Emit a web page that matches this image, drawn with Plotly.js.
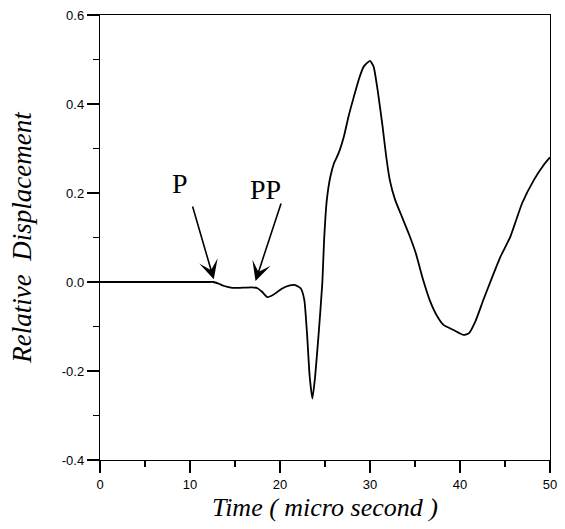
<!DOCTYPE html>
<html>
<head>
<meta charset="utf-8">
<script src="https://cdn.plot.ly/plotly-3.0.1.min.js"></script>
<style>html,body{margin:0;padding:0;background:#fff;}#chart{width:565px;height:529px;}</style>
</head>
<body>
<div id="chart"></div>
<script>
// Time (micro second)
const time = [0,5,10,12.0,12.6,13.2,13.8,14.7,15.5,16.9,
  17.5,18.0,18.6,19.3,20.2,21.0,21.7,22.3,22.7,23.0,
  23.3,23.6,23.9,24.3,24.7,24.9,25.2,25.6,26.0,26.5,
  27.1,27.6,28.2,28.8,29.3,30.0,30.4,30.9,31.4,31.8,
  32.2,32.8,33.4,34.3,35.1,35.8,36.7,37.5,38.2,39.3,
  40.4,41.0,41.7,42.6,43.6,44.5,45.6,46.9,48.2,49.3,50.0];
// Relative displacement
const displacement = [0,0,0,0,0.0,-0.004,-0.009,-0.013,-0.013,-0.012,
  -0.014,-0.022,-0.034,-0.028,-0.015,-0.008,-0.007,-0.014,-0.04,-0.115,
  -0.213,-0.262,-0.213,-0.115,-0.003,0.094,0.184,0.237,0.267,0.289,
  0.327,0.371,0.416,0.458,0.484,0.497,0.484,0.424,0.349,0.282,
  0.229,0.184,0.154,0.109,0.064,0.012,-0.044,-0.078,-0.097,-0.108,
  -0.119,-0.115,-0.089,-0.040,0.012,0.057,0.102,0.177,0.229,0.263,0.28];

const xTickVals = [0,10,20,30,40,50];
const xTickText = ['0','10','20','30','40','50'];
const yTickVals = [-0.4,-0.2,0.0,0.2,0.4,0.6];
const yTickText = ['-0.4','-0.2','0.0','0.2','0.4','0.6'];

const waveLabels = ['P','PP'];

const trace = {
  x: time, y: displacement, type: 'scatter', mode: 'lines',
  line: {color: '#000', width: 1.8, shape: 'spline', smoothing: 0.5},
  hoverinfo: 'skip'
};

const serif = '"Liberation Serif", "Times New Roman", serif';
const sans = '"Liberation Sans", Arial, sans-serif';

const layout = {
  width: 565, height: 529,
  margin: {l: 100, r: 15, t: 15, b: 69},
  paper_bgcolor: '#fff', plot_bgcolor: '#fff',
  showlegend: false,
  xaxis: {
    range: [0, 50], showgrid: false, zeroline: false,
    showline: true, linecolor: '#000', linewidth: 1.2, mirror: true,
    ticks: 'outside', ticklen: 12, tickwidth: 1.2, tickcolor: '#000',
    tickmode: 'array', tickvals: xTickVals, ticktext: xTickText,
    minor: {tickmode: 'linear', tick0: 0, dtick: 5, ticks: 'outside', ticklen: 6, tickwidth: 1.2, tickcolor: '#000'},
    tickfont: {family: sans, size: 13, color: '#000'},
    title: {text: '<i>Time ( micro second )</i>', font: {family: serif, size: 26, color: '#000'}, standoff: 7}
  },
  yaxis: {
    range: [-0.4, 0.6], showgrid: false, zeroline: false,
    showline: true, linecolor: '#000', linewidth: 1.2, mirror: true,
    ticks: 'outside', ticklen: 12, tickwidth: 1.2, tickcolor: '#000',
    tickmode: 'array', tickvals: yTickVals, ticktext: yTickText,
    minor: {tickmode: 'linear', tick0: 0, dtick: 0.1, ticks: 'outside', ticklen: 6, tickwidth: 1.2, tickcolor: '#000'},
    tickfont: {family: sans, size: 13, color: '#000'},
    title: {text: '<i>Relative  Displacement</i>', font: {family: serif, size: 27, color: '#000'}, standoff: 22}
  },
  annotations: [
    {x: 8.94, y: 0.222, xref: 'x', yref: 'y', text: waveLabels[0], showarrow: false,
     font: {family: serif, size: 28, color: '#000'}},
    {x: 18.4, y: 0.209, xref: 'x', yref: 'y', text: waveLabels[1], showarrow: false,
     font: {family: serif, size: 28, color: '#000'}},
    {x: 12.64, y: 0.006, xref: 'x', yref: 'y', ax: 10.24, ay: 0.173, axref: 'x', ayref: 'y',
     text: '', showarrow: true, arrowhead: 3, arrowsize: 2.0, arrowwidth: 1.6, arrowcolor: '#000', standoff: 0},
    {x: 17.28, y: 0.002, xref: 'x', yref: 'y', ax: 20.17, ay: 0.180, axref: 'x', ayref: 'y',
     text: '', showarrow: true, arrowhead: 3, arrowsize: 2.0, arrowwidth: 1.6, arrowcolor: '#000', standoff: 0}
  ]
};

Plotly.newPlot('chart', [trace], layout, {staticPlot: true, displayModeBar: false});
</script>
</body>
</html>
